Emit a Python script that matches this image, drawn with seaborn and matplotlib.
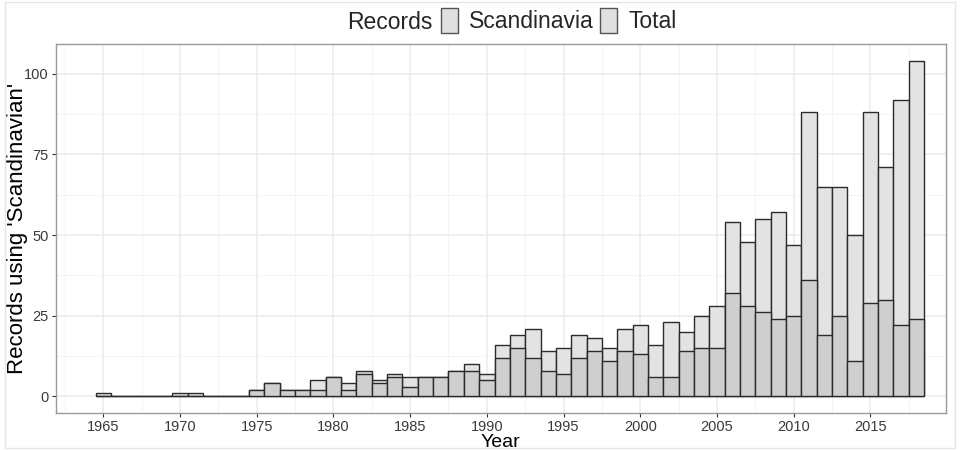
import numpy as np
import pandas as pd
import seaborn as sns
import matplotlib.pyplot as plt
from matplotlib.patches import Patch, Rectangle
from matplotlib.ticker import MultipleLocator

years = list(range(1965, 2019))
total = [1, 0, 0, 0, 0, 1, 1, 0, 0, 0,
         2, 4, 2, 2, 5, 6, 4, 8, 5, 7,
         6, 6, 6, 8, 10, 7, 16, 19, 21, 14,
         15, 19, 18, 15, 21, 22, 16, 23, 20, 25,
         28, 54, 48, 55, 57, 47, 88, 65, 65, 50,
         88, 71, 92, 104]
scandinavia = [0, 0, 0, 0, 0, 0, 0, 0, 0, 0,
               2, 4, 2, 2, 2, 6, 2, 7, 4, 6,
               3, 6, 6, 8, 8, 5, 12, 15, 12, 8,
               7, 12, 14, 11, 14, 13, 6, 6, 14, 15,
               15, 32, 28, 26, 24, 25, 36, 19, 25, 11,
               29, 30, 22, 24]

df = pd.DataFrame({"year": years, "Total": total, "Scandinavia": scandinavia})

sns.set_theme(style="whitegrid")
plt.rcParams["font.family"] = ["Liberation Sans", "DejaVu Sans"]

fig, ax = plt.subplots(figsize=(9.6, 4.5), dpi=100)
fig.subplots_adjust(left=0.058, right=0.985, top=0.902, bottom=0.082)

total_col = "#e3e3e3"
scand_col = "#cfcfcf"
edge_col = "#2b2b2b"

# total first, Scandinavia drawn over it
sns.histplot(data=df, x="year", weights="Total", discrete=True, ax=ax,
             color=total_col, edgecolor=edge_col, linewidth=1.0, alpha=1)
sns.histplot(data=df, x="year", weights="Scandinavia", discrete=True, ax=ax,
             color=scand_col, edgecolor=edge_col, linewidth=1.0, alpha=1)

ax.set_xlim(1961.9, 2019.9)
ax.set_ylim(-5.2, 109.2)
ax.xaxis.set_major_locator(MultipleLocator(5))
ax.xaxis.set_minor_locator(MultipleLocator(2.5))
ax.yaxis.set_major_locator(MultipleLocator(25))
ax.yaxis.set_minor_locator(MultipleLocator(12.5))
ax.set_axisbelow(True)
ax.grid(which="major", color="#ebebeb", linewidth=1.1)
ax.grid(which="minor", color="#f3f3f3", linewidth=0.6)

for s in ax.spines.values():
    s.set_color("#9a9a9a")
    s.set_linewidth(1.0)

ax.tick_params(axis="both", which="major", labelsize=10.5, labelcolor="#3a3a3a",
               length=3, width=0.8, color="#333333", bottom=True, left=True, pad=2)
ax.tick_params(which="minor", length=0)

ax.set_xlabel("Year", fontsize=14, color="black", labelpad=0)
ax.set_ylabel("Records using 'Scandinavian'", fontsize=16, color="black")
ax.yaxis.set_label_coords(-0.031, 0.5)

# legend at top: title to the left of keys
fig.text(0.451, 0.951, "Records", fontsize=16.5, ha="right", va="center")
handles = [Patch(facecolor="#e0e0e0", edgecolor="#555555", linewidth=1.0),
           Patch(facecolor="#e0e0e0", edgecolor="#555555", linewidth=1.0)]
fig.legend(handles, ["Scandinavia", "Total"], loc="center left",
           bbox_to_anchor=(0.459, 0.955), ncol=2, frameon=False, fontsize=16.5,
           handlelength=0.75, handleheight=1.3, handletextpad=0.5,
           columnspacing=0.25, borderaxespad=0, borderpad=0)

fig.patches.append(Rectangle((0.005, 0.005), 0.99, 0.99, transform=fig.transFigure,
                             fill=False, edgecolor="#e6e6e6", linewidth=1.0))

fig.savefig("out.png", dpi=100)
